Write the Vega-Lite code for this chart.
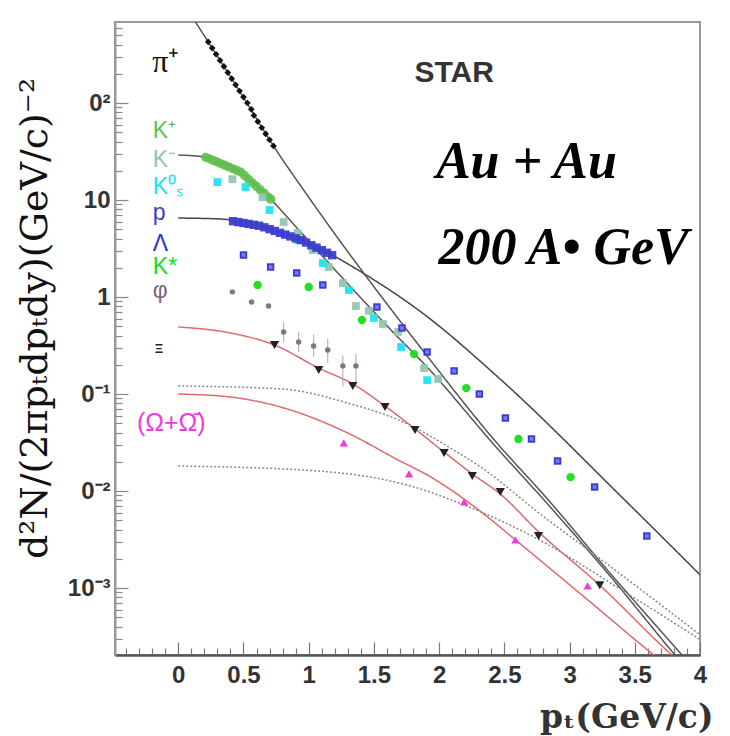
{
  "$schema": "https://vega.github.io/schema/vega-lite/v6.json",
  "autosize": "none",
  "width": 585,
  "height": 633,
  "padding": {"left": 115, "top": 22, "right": 30, "bottom": 81},
  "background": "white",
  "config": {"view": {"stroke": "#999", "strokeWidth": 2}},
  "datasets": {
    "lines": [
      {"s": "pi", "x": 0.11, "y": 760}, {"s": "pi", "x": 0.23, "y": 426}, {"s": "pi", "x": 0.48, "y": 126}, {"s": "pi", "x": 0.73, "y": 36.1}, {"s": "pi", "x": 1.015, "y": 10.0}, {"s": "pi", "x": 1.915, "y": 0.24}, {"s": "pi", "x": 2.423, "y": 0.0336}, {"s": "pi", "x": 2.838, "y": 0.00807}, {"s": "pi", "x": 3.323, "y": 0.00136}, {"s": "pi", "x": 3.862, "y": 0.000204}, {"s": "pi", "x": 4.0, "y": 0.000125},
      {"s": "K", "x": 0, "y": 29.1}, {"s": "K", "x": 0.208, "y": 27.7}, {"s": "K", "x": 0.477, "y": 19.5}, {"s": "K", "x": 0.708, "y": 10.2}, {"s": "K", "x": 0.938, "y": 4.68}, {"s": "K", "x": 1.246, "y": 1.64}, {"s": "K", "x": 1.631, "y": 0.457}, {"s": "K", "x": 1.915, "y": 0.185}, {"s": "K", "x": 2.423, "y": 0.0298}, {"s": "K", "x": 2.838, "y": 0.00718}, {"s": "K", "x": 3.323, "y": 0.00127}, {"s": "K", "x": 3.808, "y": 0.000204}, {"s": "K", "x": 3.938, "y": 0.000127},
      {"s": "p", "x": 0, "y": 6.52}, {"s": "p", "x": 0.323, "y": 6.37}, {"s": "p", "x": 0.631, "y": 5.4}, {"s": "p", "x": 0.938, "y": 3.87}, {"s": "p", "x": 1.192, "y": 2.65}, {"s": "p", "x": 1.415, "y": 1.77}, {"s": "p", "x": 1.862, "y": 0.7}, {"s": "p", "x": 2.477, "y": 0.139}, {"s": "p", "x": 3.4, "y": 0.00867}, {"s": "p", "x": 4.0, "y": 0.00137},
      {"s": "Xi", "x": 0, "y": 0.491}, {"s": "Xi", "x": 0.4, "y": 0.426}, {"s": "Xi", "x": 0.738, "y": 0.32}, {"s": "Xi", "x": 1.077, "y": 0.185}, {"s": "Xi", "x": 1.338, "y": 0.127}, {"s": "Xi", "x": 1.585, "y": 0.0752}, {"s": "Xi", "x": 1.815, "y": 0.0436}, {"s": "Xi", "x": 2.038, "y": 0.0252}, {"s": "Xi", "x": 2.254, "y": 0.015}, {"s": "Xi", "x": 2.469, "y": 0.00931}, {"s": "Xi", "x": 2.762, "y": 0.0038}, {"s": "Xi", "x": 3.231, "y": 0.00107}, {"s": "Xi", "x": 3.785, "y": 0.000204}, {"s": "Xi", "x": 3.9, "y": 0.00015},
      {"s": "Om", "x": 0, "y": 0.1}, {"s": "Om", "x": 0.4, "y": 0.0931}, {"s": "Om", "x": 0.785, "y": 0.0734}, {"s": "Om", "x": 1.3, "y": 0.0396}, {"s": "Om", "x": 1.685, "y": 0.0209}, {"s": "Om", "x": 1.938, "y": 0.0139}, {"s": "Om", "x": 2.323, "y": 0.00608}, {"s": "Om", "x": 2.577, "y": 0.0032}, {"s": "Om", "x": 3.131, "y": 0.000771}, {"s": "Om", "x": 3.646, "y": 0.000204}, {"s": "Om", "x": 3.8, "y": 0.00014},
      {"s": "d1", "x": 0, "y": 0.121}, {"s": "d1", "x": 0.785, "y": 0.113}, {"s": "d1", "x": 1.3, "y": 0.0807}, {"s": "d1", "x": 1.808, "y": 0.0457}, {"s": "d1", "x": 2.054, "y": 0.0295}, {"s": "d1", "x": 2.323, "y": 0.0175}, {"s": "d1", "x": 2.785, "y": 0.00566}, {"s": "d1", "x": 3.246, "y": 0.00195}, {"s": "d1", "x": 3.631, "y": 0.000789}, {"s": "d1", "x": 4.0, "y": 0.00033},
      {"s": "d2", "x": 0, "y": 0.0181}, {"s": "d2", "x": 1.038, "y": 0.0162}, {"s": "d2", "x": 1.808, "y": 0.011}, {"s": "d2", "x": 2.154, "y": 0.00752}, {"s": "d2", "x": 2.769, "y": 0.00313}, {"s": "d2", "x": 3.4, "y": 0.000953}, {"s": "d2", "x": 4.0, "y": 0.000295}
    ],
    "pts": [
      {"s": "pi", "x": 0.23, "y": 426}, {"s": "pi", "x": 0.26, "y": 368}, {"s": "pi", "x": 0.29, "y": 318}, {"s": "pi", "x": 0.32, "y": 275}, {"s": "pi", "x": 0.35, "y": 238}, {"s": "pi", "x": 0.38, "y": 206}, {"s": "pi", "x": 0.41, "y": 178}, {"s": "pi", "x": 0.44, "y": 154}, {"s": "pi", "x": 0.47, "y": 133}, {"s": "pi", "x": 0.5, "y": 115}, {"s": "pi", "x": 0.53, "y": 100}, {"s": "pi", "x": 0.56, "y": 86}, {"s": "pi", "x": 0.58, "y": 74.5}, {"s": "pi", "x": 0.61, "y": 64.3}, {"s": "pi", "x": 0.64, "y": 55.6}, {"s": "pi", "x": 0.67, "y": 48.1}, {"s": "pi", "x": 0.7, "y": 41.7}, {"s": "pi", "x": 0.73, "y": 36.1},
      {"s": "Kp", "x": 0.21, "y": 27.6}, {"s": "Kp", "x": 0.24, "y": 26.6}, {"s": "Kp", "x": 0.27, "y": 25.5}, {"s": "Kp", "x": 0.3, "y": 24.6}, {"s": "Kp", "x": 0.33, "y": 23.6}, {"s": "Kp", "x": 0.36, "y": 22.7}, {"s": "Kp", "x": 0.39, "y": 21.9}, {"s": "Kp", "x": 0.42, "y": 21.0}, {"s": "Kp", "x": 0.45, "y": 20.2}, {"s": "Kp", "x": 0.48, "y": 19.4}, {"s": "Kp", "x": 0.51, "y": 17.8}, {"s": "Kp", "x": 0.54, "y": 16.3}, {"s": "Kp", "x": 0.57, "y": 15.0}, {"s": "Kp", "x": 0.6, "y": 13.8}, {"s": "Kp", "x": 0.63, "y": 12.7}, {"s": "Kp", "x": 0.66, "y": 11.7}, {"s": "Kp", "x": 0.69, "y": 10.7}, {"s": "Kp", "x": 0.71, "y": 10.2},
      {"s": "Km", "x": 0.415, "y": 16.4}, {"s": "Km", "x": 0.646, "y": 10.7}, {"s": "Km", "x": 0.808, "y": 5.93}, {"s": "Km", "x": 0.915, "y": 4.57}, {"s": "Km", "x": 1.031, "y": 3.05}, {"s": "Km", "x": 1.154, "y": 2.04}, {"s": "Km", "x": 1.262, "y": 1.39}, {"s": "Km", "x": 1.362, "y": 0.807}, {"s": "Km", "x": 1.462, "y": 0.718}, {"s": "Km", "x": 1.569, "y": 0.527}, {"s": "Km", "x": 1.685, "y": 0.436}, {"s": "Km", "x": 1.885, "y": 0.185}, {"s": "Km", "x": 1.992, "y": 0.143},
      {"s": "Ks", "x": 0.3, "y": 15.3}, {"s": "Ks", "x": 0.515, "y": 13.6}, {"s": "Ks", "x": 0.7, "y": 7.89}, {"s": "Ks", "x": 0.915, "y": 3.87}, {"s": "Ks", "x": 1.108, "y": 2.24}, {"s": "Ks", "x": 1.308, "y": 1.18}, {"s": "Ks", "x": 1.5, "y": 0.608}, {"s": "Ks", "x": 1.708, "y": 0.305}, {"s": "Ks", "x": 1.908, "y": 0.139},
      {"s": "p", "x": 0.42, "y": 6.05}, {"s": "p", "x": 0.46, "y": 5.92}, {"s": "p", "x": 0.5, "y": 5.79}, {"s": "p", "x": 0.54, "y": 5.67}, {"s": "p", "x": 0.58, "y": 5.55}, {"s": "p", "x": 0.62, "y": 5.43}, {"s": "p", "x": 0.66, "y": 5.23}, {"s": "p", "x": 0.7, "y": 5.01}, {"s": "p", "x": 0.74, "y": 4.8}, {"s": "p", "x": 0.78, "y": 4.59}, {"s": "p", "x": 0.82, "y": 4.4}, {"s": "p", "x": 0.86, "y": 4.21}, {"s": "p", "x": 0.9, "y": 4.03}, {"s": "p", "x": 0.94, "y": 3.86}, {"s": "p", "x": 0.98, "y": 3.64}, {"s": "p", "x": 1.02, "y": 3.42}, {"s": "p", "x": 1.06, "y": 3.23}, {"s": "p", "x": 1.1, "y": 3.04}, {"s": "p", "x": 1.14, "y": 2.86}, {"s": "p", "x": 1.18, "y": 2.7},
      {"s": "La", "x": 0.5, "y": 2.71}, {"s": "La", "x": 0.708, "y": 2.04}, {"s": "La", "x": 0.908, "y": 1.77}, {"s": "La", "x": 1.108, "y": 1.33}, {"s": "La", "x": 1.523, "y": 0.789}, {"s": "La", "x": 1.715, "y": 0.479}, {"s": "La", "x": 1.908, "y": 0.271}, {"s": "La", "x": 2.115, "y": 0.173}, {"s": "La", "x": 2.308, "y": 0.1}, {"s": "La", "x": 2.508, "y": 0.0566}, {"s": "La", "x": 2.708, "y": 0.0344}, {"s": "La", "x": 2.908, "y": 0.0204}, {"s": "La", "x": 3.192, "y": 0.011}, {"s": "La", "x": 3.592, "y": 0.00344},
      {"s": "Kst", "x": 0.608, "y": 1.33}, {"s": "Kst", "x": 1.0, "y": 1.27}, {"s": "Kst", "x": 1.408, "y": 0.58}, {"s": "Kst", "x": 1.808, "y": 0.258}, {"s": "Kst", "x": 2.208, "y": 0.115}, {"s": "Kst", "x": 2.608, "y": 0.0344}, {"s": "Kst", "x": 3.008, "y": 0.0139},
      {"s": "phi", "x": 0.415, "y": 1.13}, {"s": "phi", "x": 0.562, "y": 0.888}, {"s": "phi", "x": 0.692, "y": 0.807}, {"s": "phi", "x": 0.808, "y": 0.436, "lo": 0.34, "hi": 0.55}, {"s": "phi", "x": 0.923, "y": 0.344, "lo": 0.27, "hi": 0.44}, {"s": "phi", "x": 1.038, "y": 0.313, "lo": 0.24, "hi": 0.41}, {"s": "phi", "x": 1.146, "y": 0.284, "lo": 0.21, "hi": 0.37}, {"s": "phi", "x": 1.262, "y": 0.195, "lo": 0.12, "hi": 0.25}, {"s": "phi", "x": 1.362, "y": 0.195, "lo": 0.12, "hi": 0.26},
      {"s": "Xi", "x": 0.738, "y": 0.32}, {"s": "Xi", "x": 1.077, "y": 0.177}, {"s": "Xi", "x": 1.338, "y": 0.121}, {"s": "Xi", "x": 1.585, "y": 0.0734}, {"s": "Xi", "x": 1.815, "y": 0.0426}, {"s": "Xi", "x": 2.038, "y": 0.0247}, {"s": "Xi", "x": 2.254, "y": 0.0143}, {"s": "Xi", "x": 2.469, "y": 0.00977}, {"s": "Xi", "x": 2.762, "y": 0.00344}, {"s": "Xi", "x": 3.231, "y": 0.00107},
      {"s": "Om", "x": 1.269, "y": 0.0313}, {"s": "Om", "x": 1.769, "y": 0.015}, {"s": "Om", "x": 2.192, "y": 0.00771}, {"s": "Om", "x": 2.585, "y": 0.00313}, {"s": "Om", "x": 3.138, "y": 0.00105}
    ],
    "labels": [
      {"s": "pi", "t": "π⁺", "x": -0.2, "y": 265},
      {"s": "Kp", "t": "K⁺", "x": -0.195, "y": 51.4},
      {"s": "Km", "t": "K⁻", "x": -0.195, "y": 25.8},
      {"s": "Ks", "t": "K⁰ₛ", "x": -0.195, "y": 13.6},
      {"s": "p", "t": "p", "x": -0.195, "y": 7.34},
      {"s": "La", "t": "Λ", "x": -0.195, "y": 3.55},
      {"s": "Kst", "t": "K*", "x": -0.195, "y": 2.02},
      {"s": "phi", "t": "φ", "x": -0.195, "y": 1.16},
      {"s": "Xi", "t": "Ξ", "x": -0.18, "y": 0.291},
      {"s": "Om", "t": "(Ω+Ω̄)", "x": -0.054, "y": 0.0502}
    ]
  },
  "encoding": {
    "x": {
      "field": "x", "type": "quantitative",
      "scale": {"domain": [-0.485, 4], "nice": false, "zero": false},
      "axis": {
        "values": [-0.4, -0.3, -0.2, -0.1, 0, 0.1, 0.2, 0.3, 0.4, 0.5, 0.6, 0.7, 0.8, 0.9, 1, 1.1, 1.2, 1.3, 1.4, 1.5, 1.6, 1.7, 1.8, 1.9, 2, 2.1, 2.2, 2.3, 2.4, 2.5, 2.6, 2.7, 2.8, 2.9, 3, 3.1, 3.2, 3.3, 3.4, 3.5, 3.6, 3.7, 3.8, 3.9, 4],
        "labelExpr": "(abs(datum.value*2 - round(datum.value*2)) < 0.001 && datum.value >= 0) ? (datum.value == round(datum.value) ? format(datum.value, 'd') : format(datum.value, '.1f')) : ''",
        "tickSize": {"condition": {"test": "abs(datum.value*2 - round(datum.value*2)) < 0.001", "value": -13}, "value": -7},
        "labelPadding": 21,
        "labelFont": "Liberation Sans", "labelFontWeight": "bold", "labelFontSize": 24, "labelColor": "#333",
        "labelOverlap": false, "labelFlush": false,
        "domainColor": "#555", "domainWidth": 2.5, "tickColor": "#777", "tickWidth": 1.2,
        "grid": false,
        "title": "pₜ(GeV/c)", "titleFont": "DejaVu Serif", "titleFontSize": 33, "titleFontWeight": "bold", "titleColor": "#333",
        "titleX": 598, "titleY": 62, "titleAlign": "right", "titleBaseline": "middle"
      }
    },
    "y": {
      "field": "y", "type": "quantitative",
      "scale": {"type": "log", "domain": [0.000204, 684], "nice": false},
      "axis": {
        "values": [0.0003, 0.0004, 0.0005, 0.0006, 0.0007, 0.0008, 0.0009, 0.001, 0.002, 0.003, 0.004, 0.005, 0.006, 0.007, 0.008, 0.009, 0.01, 0.02, 0.03, 0.04, 0.05, 0.06, 0.07, 0.08, 0.09, 0.1, 0.2, 0.3, 0.4, 0.5, 0.6, 0.7, 0.8, 0.9, 1, 2, 3, 4, 5, 6, 7, 8, 9, 10, 20, 30, 40, 50, 60, 70, 80, 90, 100, 200, 300, 400, 500, 600],
        "labelExpr": "datum.value == 100 ? '0²' : datum.value == 10 ? '10' : datum.value == 1 ? '1' : datum.value == 0.1 ? '0⁻¹' : datum.value == 0.01 ? '0⁻²' : datum.value == 0.001 ? '10⁻³' : ''",
        "tickSize": {"condition": {"test": "indexof([0.001, 0.01, 0.1, 1, 10, 100], datum.value) >= 0", "value": -13}, "value": -7},
        "labelPadding": 18,
        "labelFont": "Liberation Sans", "labelFontWeight": "bold", "labelFontSize": 24, "labelColor": "#333",
        "labelOverlap": false, "labelFlush": false,
        "domainColor": "#999", "domainWidth": 2, "tickColor": "#888", "tickWidth": 1.2,
        "grid": false,
        "title": "d²N/(2πpₜdpₜdy)(GeV/c)⁻²", "titleFont": "DejaVu Serif", "titleFontSize": 38, "titleFontWeight": "normal", "titleColor": "#111",
        "titleX": -80, "titleY": 296, "titleAlign": "center", "titleBaseline": "middle", "titleAngle": -90
      }
    },
    "color": {"field": "s", "type": "nominal", "legend": null,
      "scale": {"domain": ["pi", "Kp", "Km", "Ks", "p", "La", "Kst", "phi", "Xi", "Om"], "range": ["#111111", "#5fbf4f", "#93c6ad", "#1ee4f0", "#3d3dcc", "#2e2ed6", "#19dd19", "#7d6474", "#222222", "#ee3ae0"]}}
  },
  "layer": [
    {
      "data": {"name": "lines"},
      "mark": {"type": "line", "interpolate": "monotone", "clip": true},
      "encoding": {
        "color": null,
        "detail": {"field": "s"},
        "stroke": {"field": "s", "type": "nominal", "legend": null,
          "scale": {"domain": ["pi", "K", "p", "Xi", "Om", "d1", "d2"], "range": ["#555555", "#555555", "#444444", "#e06a6a", "#e06a6a", "#888888", "#888888"]}},
        "strokeDash": {"field": "s", "type": "nominal", "legend": null,
          "scale": {"domain": ["pi", "K", "p", "Xi", "Om", "d1", "d2"], "range": [[1, 0], [1, 0], [1, 0], [1, 0], [1, 0], [2, 2], [2, 2]]}},
        "strokeWidth": {"field": "s", "type": "nominal", "legend": null,
          "scale": {"domain": ["pi", "K", "p", "Xi", "Om", "d1", "d2"], "range": [1.5, 1.5, 2.2, 1.6, 1.6, 1.2, 1.2]}}
      }
    },
    {
      "data": {"name": "pts"},
      "transform": [{"filter": "isValid(datum.lo)"}],
      "mark": {"type": "rule", "color": "#aaa", "strokeWidth": 1},
      "encoding": {
        "color": null,
        "y": {"field": "lo", "type": "quantitative"},
        "y2": {"field": "hi"}
      }
    },
    {"data": {"name": "pts"}, "transform": [{"filter": "datum.s == 'pi'"}], "mark": {"type": "point", "filled": true, "shape": "diamond", "size": 45, "opacity": 1}},
    {"data": {"name": "pts"}, "transform": [{"filter": "datum.s == 'Kp'"}], "mark": {"type": "point", "filled": true, "shape": "circle", "size": 85, "opacity": 0.9}},
    {"data": {"name": "pts"}, "transform": [{"filter": "datum.s == 'Km' || datum.s == 'Ks'"}], "mark": {"type": "square", "size": 60, "opacity": 0.95}},
    {"data": {"name": "pts"}, "transform": [{"filter": "datum.s == 'p'"}], "mark": {"type": "square", "size": 70, "opacity": 0.95}},
    {"data": {"name": "pts"}, "transform": [{"filter": "datum.s == 'La'"}], "mark": {"type": "square", "size": 55, "opacity": 0.95}},
    {"data": {"name": "pts"}, "transform": [{"filter": "datum.s == 'La'"}], "mark": {"type": "point", "shape": "cross", "angle": 45, "filled": true, "size": 22, "color": "#8f8ff0", "opacity": 0.8}, "encoding": {"color": null}},
    {"data": {"name": "pts"}, "transform": [{"filter": "datum.s == 'Kst'"}], "mark": {"type": "circle", "size": 70, "opacity": 0.95}},
    {"data": {"name": "pts"}, "transform": [{"filter": "datum.s == 'phi'"}], "mark": {"type": "circle", "size": 30, "opacity": 0.9}},
    {"data": {"name": "pts"}, "transform": [{"filter": "datum.s == 'Xi'"}], "mark": {"type": "point", "filled": true, "shape": "triangle-down", "size": 85, "opacity": 1}},
    {"data": {"name": "pts"}, "transform": [{"filter": "datum.s == 'Om'"}], "mark": {"type": "point", "filled": true, "shape": "triangle-up", "size": 70, "opacity": 1}},
    {
      "data": {"name": "labels"},
      "transform": [{"filter": "datum.s != 'pi' && datum.s != 'Xi' && datum.s != 'Om'"}],
      "mark": {"type": "text", "align": "left", "baseline": "middle", "font": "Liberation Sans", "fontSize": 23},
      "encoding": {"text": {"field": "t"}}
    },
    {
      "data": {"name": "labels"},
      "transform": [{"filter": "datum.s == 'pi'"}],
      "mark": {"type": "text", "align": "left", "baseline": "middle", "font": "Liberation Serif", "fontSize": 32},
      "encoding": {"text": {"field": "t"}}
    },
    {
      "data": {"name": "labels"},
      "transform": [{"filter": "datum.s == 'Xi'"}],
      "mark": {"type": "text", "align": "left", "baseline": "middle", "font": "Liberation Sans", "fontSize": 13, "fontWeight": "bold"},
      "encoding": {"text": {"field": "t"}}
    },
    {
      "data": {"name": "labels"},
      "transform": [{"filter": "datum.s == 'Om'"}],
      "mark": {"type": "text", "align": "center", "baseline": "middle", "font": "Liberation Sans", "fontSize": 25},
      "encoding": {"text": {"field": "t"}}
    },
    {
      "data": {"values": [{"t": "STAR", "x": 2.115, "y": 204}]},
      "mark": {"type": "text", "align": "center", "baseline": "middle", "font": "Liberation Sans", "fontSize": 30, "fontWeight": "bold", "color": "#333"},
      "encoding": {"text": {"field": "t"}, "color": null}
    },
    {
      "data": {"values": [{"t": "Au + Au", "x": 2.669, "y": 24.7}, {"t": "200 A• GeV", "x": 2.954, "y": 3.2}]},
      "mark": {"type": "text", "align": "center", "baseline": "middle", "font": "Liberation Serif", "fontSize": 52, "fontWeight": "bold", "fontStyle": "italic", "color": "#000"},
      "encoding": {"text": {"field": "t"}, "color": null}
    }
  ]
}
